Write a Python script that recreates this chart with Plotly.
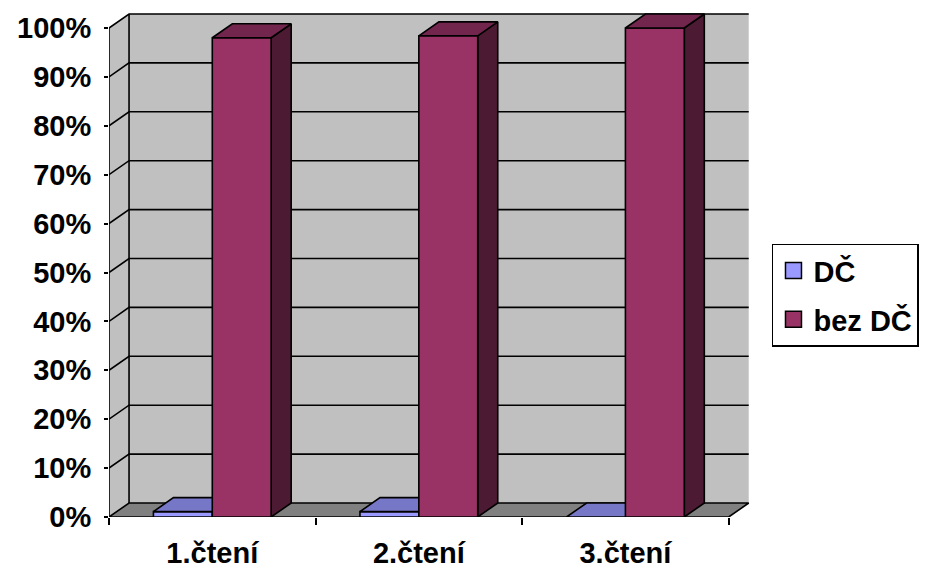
import plotly.graph_objects as go

# Chart data
categories = ["1.čtení", "2.čtení", "3.čtení"]
dc_values = [1.1, 1.1, 0.0]          # DČ, %
bez_dc_values = [98.0, 98.4, 100.0]  # bez DČ, %
y_ticks = [0, 10, 20, 30, 40, 50, 60, 70, 80, 90, 100]
y_tick_labels = [f"{v}%" for v in y_ticks]

# Pseudo-3D geometry in data units
DX = 0.097       # depth shift along x (category units)
DY = 2.86        # depth shift along y (percent units)
BAR_W = 0.285    # width of one bar (category units)
N = len(categories)

WALL = "#C0C0C0"
FLOOR = "#808080"
EDGE = "black"
EW = 1.6

series = [
    dict(name="DČ", values=dc_values, front="#9999FF", top="#7777C8", side="#4D4D80"),
    dict(name="bez DČ", values=bez_dc_values, front="#993366", top="#73264D", side="#4C1A33"),
]

fig = go.Figure()


def poly(xs, ys, fill, width=EW):
    fig.add_trace(go.Scatter(
        x=list(xs) + [xs[0]], y=list(ys) + [ys[0]],
        mode="lines", fill="toself", fillcolor=fill,
        line=dict(color=EDGE, width=width),
        showlegend=False, hoverinfo="skip",
    ))


def seg(xs, ys, width=EW):
    fig.add_trace(go.Scatter(
        x=xs, y=ys, mode="lines", line=dict(color=EDGE, width=width),
        showlegend=False, hoverinfo="skip",
    ))


top = y_ticks[-1]

# Side wall and back wall (filled, no outline)
fig.add_trace(go.Scatter(
    x=[0, 0, DX, DX, 0], y=[0, top, top + DY, DY, 0],
    mode="lines", fill="toself", fillcolor=WALL, line=dict(width=0),
    showlegend=False, hoverinfo="skip"))
fig.add_trace(go.Scatter(
    x=[DX, N + DX, N + DX, DX, DX], y=[DY, DY, top + DY, top + DY, DY],
    mode="lines", fill="toself", fillcolor=WALL, line=dict(width=0),
    showlegend=False, hoverinfo="skip"))

# Front-left edge of the side wall
seg([0, 0], [0, top])
seg([DX, DX], [DY, top + DY])

# Gridlines on side and back walls
for v in y_ticks[1:]:
    seg([0, DX, N + DX], [v, v + DY, v + DY])

# Floor
poly([0, N, N + DX, DX], [0, 0, DY, DY], FLOOR)

# Bars, drawn left to right so later faces cover earlier side faces
for i in range(N):
    c = i + 0.5
    for k, s in enumerate(series):
        v = s["values"][i]
        x0 = c - BAR_W if k == 0 else c
        x1 = x0 + BAR_W
        if v > 0:
            poly([x1, x1 + DX, x1 + DX, x1], [0, DY, v + DY, v], s["side"])
            poly([x0, x1, x1, x0], [0, 0, v, v], s["front"])
        poly([x0, x1, x1 + DX, x0 + DX], [v, v, v + DY, v + DY], s["top"])

# Legend entries
for s in series:
    fig.add_trace(go.Scatter(
        x=[None], y=[None], mode="markers", name=s["name"],
        legendgroup=s["name"],
        marker=dict(symbol="square", size=18, color=s["front"],
                    line=dict(color=EDGE, width=1.5)),
    ))

FONT = "Liberation Sans, Arial, sans-serif"
FS = 29
X_MAX = 3.2
Y_MAX = 104.09

fig.update_layout(
    width=928, height=568,
    margin=dict(l=109, r=158, t=8, b=51, autoexpand=False),
    paper_bgcolor="white", plot_bgcolor="white",
    font=dict(family=FONT, size=FS, color="black", weight="bold"),
    showlegend=True,
    legend=dict(
        x=1.003, y=0.537, xanchor="left", yanchor="top",
        bordercolor="black", borderwidth=1.5, bgcolor="white",
        font=dict(family=FONT, size=FS, weight="bold"),
        traceorder="grouped", tracegroupgap=8,
        itemwidth=30,
    ),
    xaxis=dict(
        range=[0, X_MAX], showgrid=False, zeroline=False, showline=False,
        tickvals=[i + 0.5 for i in range(N)], ticktext=categories,
        ticks="", ticklabelstandoff=16, automargin=False,
        tickfont=dict(family=FONT, size=FS, weight="bold"),
        fixedrange=True,
    ),
    xaxis2=dict(
        range=[0, X_MAX], overlaying="x", side="bottom", anchor="y",
        showgrid=False, zeroline=False, showline=False, automargin=False,
        tickvals=list(range(N + 1)), ticks="outside", ticklen=7,
        tickwidth=1.6, tickcolor="black", showticklabels=False,
    ),
    yaxis=dict(
        range=[0, Y_MAX], showgrid=False, zeroline=False, showline=False,
        tickvals=y_ticks, ticktext=y_tick_labels, ticks="outside", ticklen=4,
        tickwidth=1.6, tickcolor="black", automargin=False,
        ticklabelstandoff=7,
        tickfont=dict(family=FONT, size=FS, weight="bold"),
        fixedrange=True,
    ),
)

# Dummy trace on xaxis2 so its ticks are drawn
fig.add_trace(go.Scatter(x=[None], y=[None], xaxis="x2", showlegend=False,
                         hoverinfo="skip"))

fig.write_html("out.html")
